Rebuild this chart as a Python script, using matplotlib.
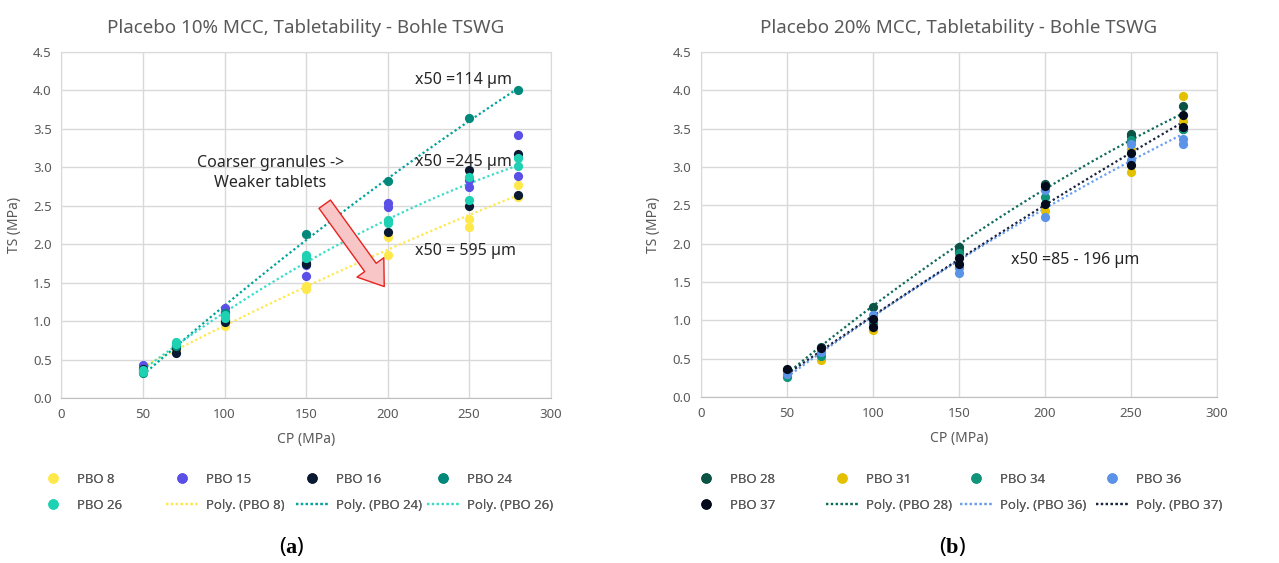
import numpy as np
import matplotlib
matplotlib.use('Agg')
import matplotlib.pyplot as plt
from matplotlib.lines import Line2D

plt.rcParams['font.family'] = ['Noto Sans', 'DejaVu Sans']
plt.rcParams['mathtext.fontset'] = 'custom'
plt.rcParams['mathtext.rm'] = 'Liberation Serif'
plt.rcParams['mathtext.bf'] = 'Liberation Serif:bold'

# ---- panel (a): Placebo 10% MCC ----
cp_pbo8 = [50, 50, 70, 70, 100, 100, 150, 150, 200, 200, 250, 250, 280, 280]
ts_pbo8 = [0.40, 0.37, 0.65, 0.62, 0.97, 0.93, 1.46, 1.42, 2.09, 1.86, 2.33, 2.22, 2.77, 2.62]
cp_pbo15 = [50, 70, 100, 100, 150, 150, 200, 200, 250, 250, 280, 280]
ts_pbo15 = [0.43, 0.68, 1.17, 1.12, 1.73, 1.59, 2.54, 2.48, 2.83, 2.75, 3.42, 2.89]
cp_pbo16 = [50, 70, 70, 100, 100, 150, 150, 200, 250, 250, 280, 280]
ts_pbo16 = [0.38, 0.59, 0.65, 0.99, 1.02, 1.74, 1.76, 2.16, 2.96, 2.50, 3.17, 2.64]
cp_pbo24 = [50, 70, 100, 150, 200, 250, 280]
ts_pbo24 = [0.33, 0.68, 1.10, 2.13, 2.82, 3.64, 4.00]
cp_pbo26 = [50, 50, 70, 70, 100, 100, 150, 150, 200, 200, 250, 250, 280, 280]
ts_pbo26 = [0.36, 0.34, 0.73, 0.70, 1.08, 1.04, 1.86, 1.82, 2.31, 2.28, 2.88, 2.57, 3.12, 3.02]

# ---- panel (b): Placebo 20% MCC ----
cp_pbo28 = [50, 70, 100, 150, 150, 200, 250, 250, 280, 280]
ts_pbo28 = [0.35, 0.65, 1.18, 1.96, 1.91, 2.78, 3.43, 3.40, 3.80, 3.49]
cp_pbo31 = [50, 70, 100, 150, 200, 250, 250, 280, 280]
ts_pbo31 = [0.27, 0.48, 0.87, 1.68, 2.43, 3.24, 2.93, 3.93, 3.60]
cp_pbo34 = [50, 70, 100, 150, 200, 250, 280]
ts_pbo34 = [0.26, 0.54, 0.96, 1.88, 2.61, 3.35, 3.49]
cp_pbo36 = [50, 70, 100, 150, 150, 200, 200, 250, 250, 280, 280]
ts_pbo36 = [0.30, 0.59, 1.07, 1.70, 1.62, 2.70, 2.35, 3.30, 3.09, 3.37, 3.30]
cp_pbo37 = [50, 70, 100, 100, 150, 150, 200, 200, 250, 250, 280, 280]
ts_pbo37 = [0.37, 0.64, 1.02, 0.91, 1.81, 1.74, 2.75, 2.52, 3.18, 3.02, 3.68, 3.52]

x_ticks = [0, 50, 100, 150, 200, 250, 300]
y_ticks = [0.0, 0.5, 1.0, 1.5, 2.0, 2.5, 3.0, 3.5, 4.0, 4.5]

left_series = [
    ('PBO 8', cp_pbo8, ts_pbo8, '#FFE94A'),
    ('PBO 15', cp_pbo15, ts_pbo15, '#5A4FE6'),
    ('PBO 16', cp_pbo16, ts_pbo16, '#0A1A33'),
    ('PBO 24', cp_pbo24, ts_pbo24, '#00887A'),
    ('PBO 26', cp_pbo26, ts_pbo26, '#1DD1B2'),
]
left_fits = [('PBO 8', '#FFE84A'), ('PBO 24', '#00A39A'), ('PBO 26', '#3ADCC8')]

right_series = [
    ('PBO 28', cp_pbo28, ts_pbo28, '#0B5345'),
    ('PBO 31', cp_pbo31, ts_pbo31, '#E3C100'),
    ('PBO 34', cp_pbo34, ts_pbo34, '#10957A'),
    ('PBO 36', cp_pbo36, ts_pbo36, '#5A93E8'),
    ('PBO 37', cp_pbo37, ts_pbo37, '#030B1C'),
]
right_fits = [('PBO 28', '#0E6B5C'), ('PBO 36', '#6A9EF0'), ('PBO 37', '#1A2440')]

GRAY = '#595959'
GRID = '#D9D9D9'


def draw_panel(ax, series, fits, title):
    data = {name: (np.array(x), np.array(y)) for name, x, y, c in series}
    handles = {}
    fit_handles = []
    for name, col in fits:
        x, y = data[name]
        coef = np.polyfit(x, y, 2)
        xx = np.linspace(x.min(), x.max(), 100)
        ln, = ax.plot(xx, np.polyval(coef, xx), color=col, lw=1.6,
                      linestyle=(0, (1, 1.2)), zorder=2)
        fit_handles.append((ln, f'Poly. ({name})'))
    for name, x, y, col in series:
        ax.scatter(x, y, s=44, color=col, zorder=3, linewidths=0)
        handles[name] = Line2D([], [], marker='o', linestyle='none',
                               color=col, markersize=6.5)
    ax.set_xlim(0, 300)
    ax.set_ylim(0, 4.5)
    ax.set_xticks(x_ticks)
    ax.set_yticks(y_ticks)
    ax.set_yticklabels([f'{v:.1f}' for v in y_ticks])
    ax.tick_params(length=0, labelsize=9.5, colors=GRAY, pad=7)
    ax.grid(True, color=GRID, lw=1)
    ax.set_axisbelow(True)
    for sp in ax.spines.values():
        sp.set_color(GRID)
    ax.spines['bottom'].set_color('#BFBFBF')
    ax.set_xlabel('CP (MPa)', fontsize=10, color=GRAY, labelpad=8)
    ax.set_ylabel('TS (MPa)', fontsize=10, color=GRAY, labelpad=8)
    ax.set_title(title, fontsize=13.5, color=GRAY, pad=14)
    ent = [(handles[n], n) for n, x, y, c in series] + fit_handles
    return ent


W, H = 1279, 563
fig = plt.figure(figsize=(W / 100, H / 100), dpi=100)
axA = fig.add_axes([61.5 / W, 1 - 398 / H, 489 / W, 346 / H])
axB = fig.add_axes([701 / W, 1 - 397 / H, 516 / W, 345 / H])

entA = draw_panel(axA, left_series, left_fits,
                  'Placebo 10% MCC, Tabletability - Bohle TSWG')
entB = draw_panel(axB, right_series, right_fits,
                  'Placebo 20% MCC, Tabletability - Bohle TSWG')


def put_legend(entries, x_starts):
    # row-major layout, one legend per column
    for j, x0 in enumerate(x_starts):
        col = [entries[j], entries[j + 4]]
        lg = fig.legend([h for h, l in col], [l for h, l in col],
                        loc='upper left', bbox_to_anchor=(x0 / W, 1 - 473 / H),
                        frameon=False, fontsize=9.5, labelcolor=GRAY,
                        handlelength=2.5, handletextpad=0.5, borderpad=0,
                        borderaxespad=0, labelspacing=0.95)
        fig.add_artist(lg)


put_legend(entA, [37, 166, 296, 427])
put_legend(entB, [690, 826, 960, 1096])

# annotations panel (a)
axA.text(217, 4.13, 'x50 =114 µm', fontsize=11.5, color='#262626', va='center')
axA.text(217, 3.07, 'x50 =245 µm', fontsize=11.5, color='#262626', va='center')
axA.text(217, 1.91, 'x50 = 595 µm', fontsize=11.5, color='#262626', va='center')
axA.text(128, 2.93, 'Coarser granules ->\nWeaker tablets', fontsize=11.5,
         color='#262626', ha='center', va='center', linespacing=1.3)
axA.annotate('', xy=(199, 1.42), xytext=(160.5, 2.55),
             arrowprops=dict(arrowstyle='simple,head_length=1.0,head_width=1.4,tail_width=0.6',
                             mutation_scale=17, fc='#F8C6C6', ec='#E8221E', lw=1))

# annotation panel (b)
axB.text(180, 1.79, 'x50 =85 - 196 µm', fontsize=11.5, color='#262626', va='center')

fig.text(292 / W, 1 - 546 / H, r'($\mathbf{a}$)', fontsize=16, ha='center', va='center')
fig.text(952 / W, 1 - 546 / H, r'($\mathbf{b}$)', fontsize=16, ha='center', va='center')

fig.savefig('out.png', dpi=100)
